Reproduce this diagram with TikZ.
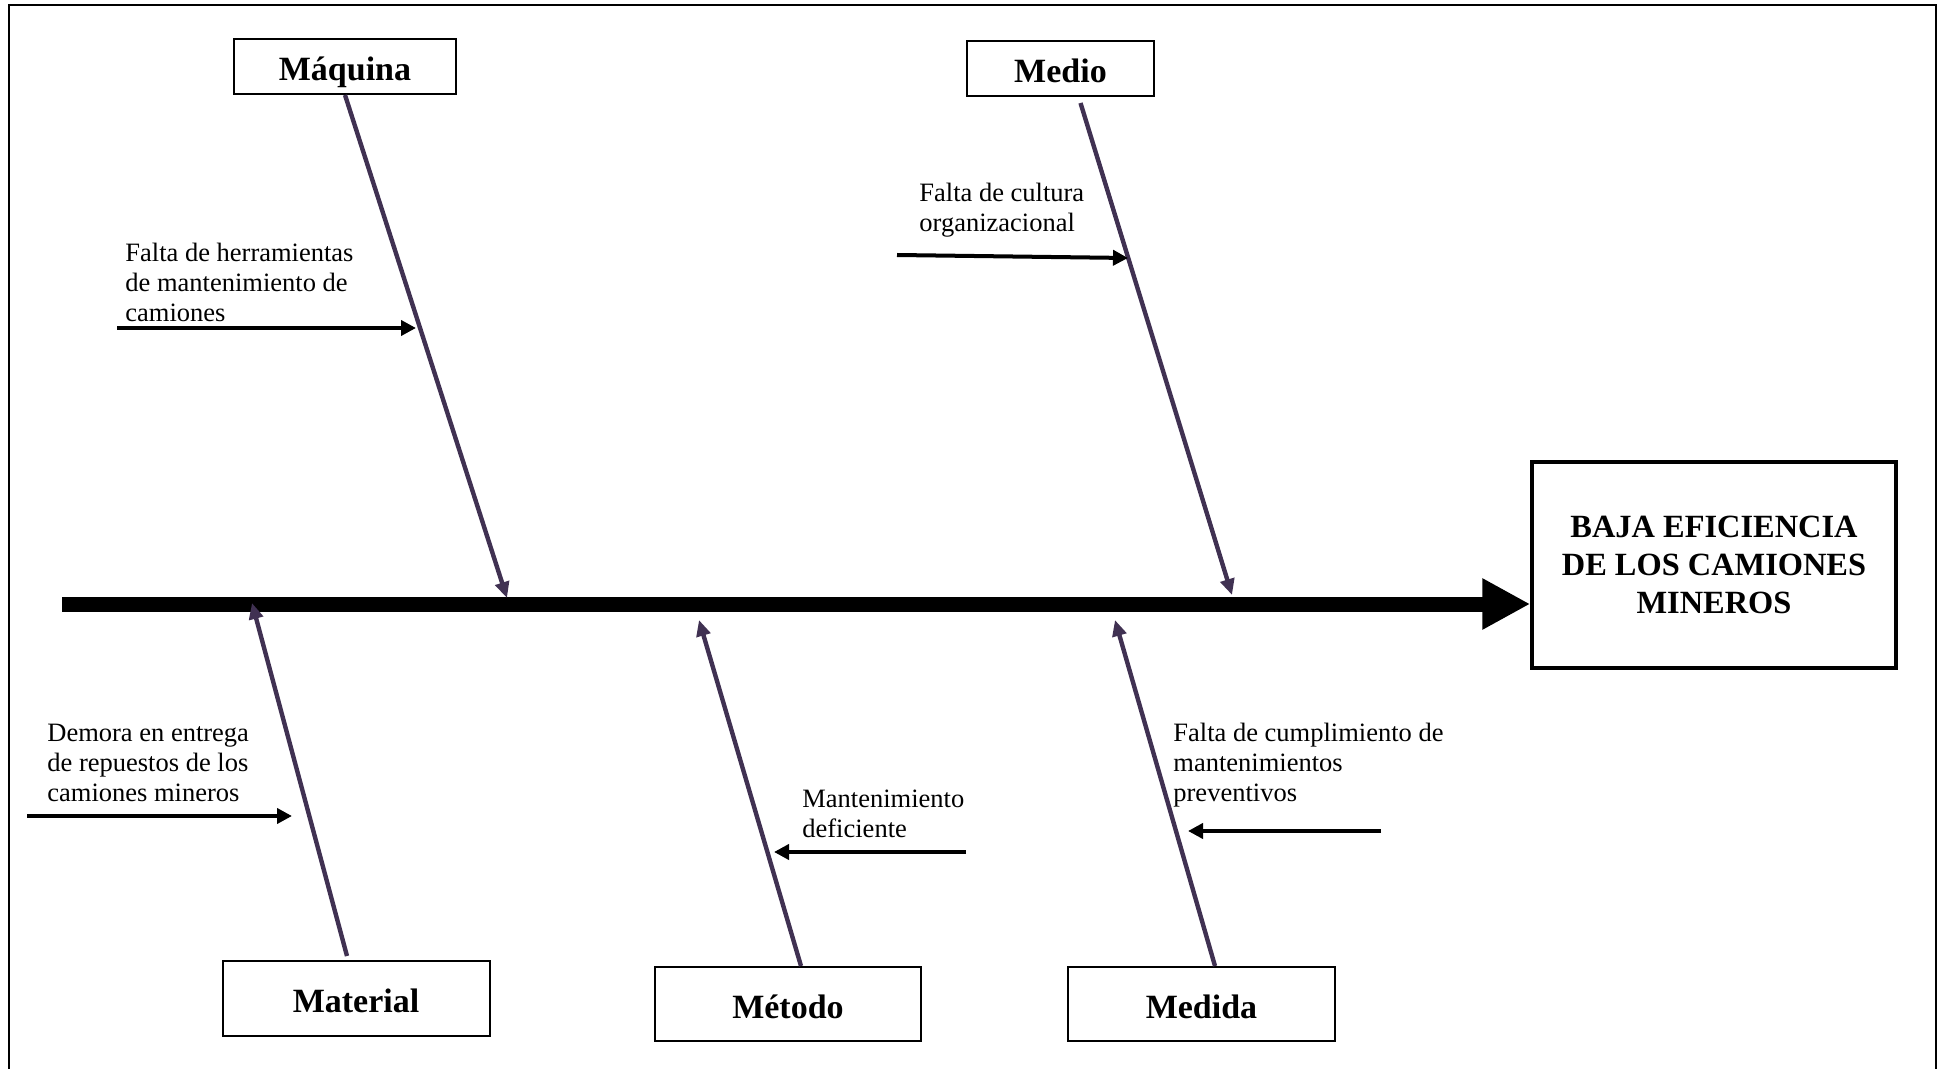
\documentclass[tikz,border=0pt]{standalone}
\usepackage{fontspec}
\setmainfont{Liberation Serif}
\usetikzlibrary{arrows.meta}
\definecolor{morado}{RGB}{64,49,82}

\begin{document}
\begin{tikzpicture}[x=0.5pt, y=-0.5pt,
	categoria/.style={draw, line width=1pt, inner sep=0pt, minimum height=27.5pt, text height=14pt, text depth=0pt, font=\fontsize{17}{19}\selectfont\bfseries},
	causa/.style={anchor=north west, inner sep=0pt, align=left, font=\fontsize{13.25}{15}\selectfont},
	espina/.style={line width=7.5pt, -{Triangle[length=24pt,width=24pt]}},
	hueso/.style={draw=morado, line width=2.2pt, -{Triangle[length=8pt,width=7pt]}},
	flecha/.style={line width=2pt, -{Triangle[length=7.5pt,width=7.5pt]}}
	]
	% Marco
	\useasboundingbox (0,0) rectangle (1939,1069);
	\draw[line width=1pt] (9,1090) -- (9,5) -- (1936,5) -- (1936,1090);
	
	% Efecto
	\node[draw, line width=1.75pt, minimum width=182pt, minimum height=103pt, align=center, font=\fontsize{16.2}{18.85}\selectfont\bfseries] (efecto) at (1714,565) {BAJA EFICIENCIA\\DE LOS CAMIONES\\MINEROS};
	
	% Categorías
	\node[categoria, minimum width=111pt] (maquina) at (345,66.5) {Máquina};
	\node[categoria, minimum width=93.5pt] (medio) at (1060.5,68.5) {Medio};
	\node[categoria, minimum width=133.5pt, minimum height=37.5pt] (material) at (356,998.5) {Material};
	\node[categoria, minimum width=133pt, minimum height=37pt] (metodo) at (788,1004) {Método};
	\node[categoria, minimum width=133.5pt, minimum height=37pt] (medida) at (1201.5,1004) {Medida};
	
	% Espina central
	\coordinate (inicio) at (62,604);
	\draw[espina] (inicio) -- (inicio -| efecto.west);
	
	% Huesos
	\coordinate (p-maquina) at (507,598);
	\coordinate (p-medio) at (1232,595);
	\coordinate (p-material) at (252,603);
	\coordinate (p-metodo) at (699,620);
	\coordinate (p-medida) at (1115,620);
	\draw[hueso] (maquina.south) -- (p-maquina);
	\draw[hueso] ([xshift=10pt,yshift=-3pt]medio.south) -- (p-medio);
	\draw[hueso] ([xshift=-4.5pt,yshift=2pt]material.north) -- (p-material);
	\draw[hueso] ([xshift=6.5pt]metodo.north) -- (p-metodo);
	\draw[hueso] ([xshift=6.75pt]medida.north) -- (p-medida);
	
	% Causas
	\node[causa] (herramientas) at (125,243) {Falta de herramientas\\de mantenimiento de\\camiones};
	\node[causa] (cultura) at (919,183) {Falta de cultura\\organizacional};
	\node[causa] (repuestos) at (47,724) {Demora en entrega\\de repuestos de los\\camiones mineros};
	\node[causa] (deficiente) at (802,790) {Mantenimiento\\deficiente};
	\node[causa] (preventivos) at (1173,723) {Falta de cumplimiento de\\mantenimientos\\preventivos};
	
	% Flechas de las causas
	\coordinate (herr-a) at (117,328);   \coordinate (herr-b) at (416,328);
	\coordinate (cult-a) at (897,255);   \coordinate (cult-b) at (1128,258);
	\coordinate (rep-a) at (27,816);     \coordinate (rep-b) at (292,816);
	\coordinate (def-a) at (966,852);    \coordinate (def-b) at (774,852);
	\coordinate (prev-a) at (1381,831);  \coordinate (prev-b) at (1188,831);
	\draw[flecha] (herr-a) -- (herr-b);
	\draw[flecha] (cult-a) -- (cult-b);
	\draw[flecha] (rep-a) -- (rep-b);
	\draw[flecha] (def-a) -- (def-b);
	\draw[flecha] (prev-a) -- (prev-b);
\end{tikzpicture}
\end{document}
